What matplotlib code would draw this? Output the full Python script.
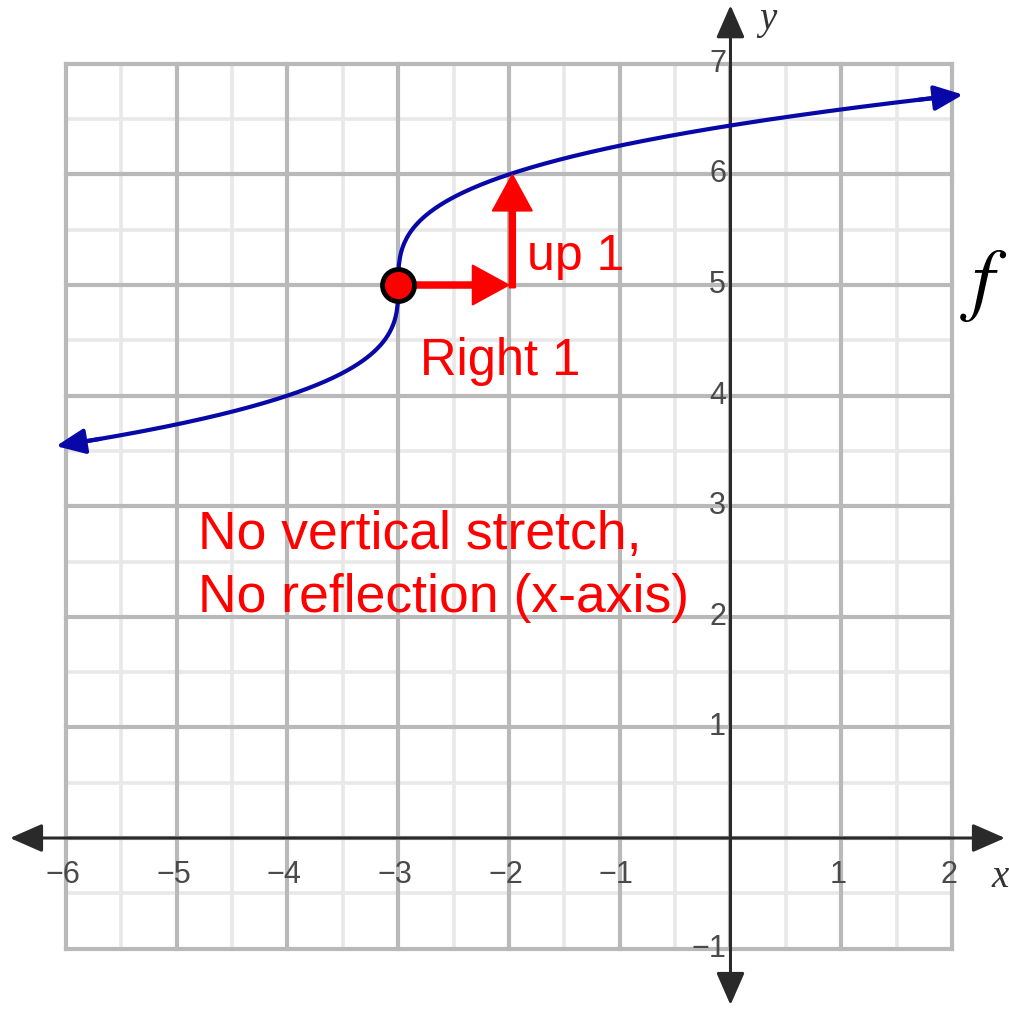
import numpy as np
import matplotlib
matplotlib.use("Agg")
from matplotlib import pyplot as plt

# graph of f(x) = cbrt(x - h) + k
h = -3
k = 5
x_ends = [-6.09, 2.1]
point = (-3, 5)
x_ticks = [-6, -5, -4, -3, -2, -1, 1, 2]
y_ticks = [-1, 1, 2, 3, 4, 5, 6, 7]

def f(x):
    return np.cbrt(x - h) + k

fig = plt.figure(figsize=(10.09, 10.11), dpi=100)
ax = fig.add_axes([0, 0, 1, 1])
ax.set_xlim(-6.596, 2.515)
ax.set_ylim(-1.564, 7.577)
ax.axis("off")

# grid
for v in np.arange(-6, 2.01, 0.5):
    if v % 1:
        ax.plot([v, v], [-1, 7], color="#e8e8e8", lw=2.6, zorder=1)
for v in np.arange(-1, 7.01, 0.5):
    if v % 1:
        ax.plot([-6, 2], [v, v], color="#e8e8e8", lw=2.6, zorder=1)
for v in range(-6, 3):
    ax.plot([v, v], [-1, 7], color="#b9b9b9", lw=3, zorder=2)
for v in range(-1, 8):
    ax.plot([-6, 2], [v, v], color="#b9b9b9", lw=3, zorder=2)

# axes with arrows
ax_style = dict(arrowstyle="<|-|>,head_length=0.8,head_width=0.35", color="#2a2a2a",
                lw=2.2, mutation_scale=25, shrinkA=0, shrinkB=0)
ax.annotate("", xy=(2.479, 0), xytext=(-6.506, 0), arrowprops=ax_style, zorder=3)
ax.annotate("", xy=(0, 7.53), xytext=(0, -1.51), arrowprops=ax_style, zorder=3)

for t in x_ticks:
    ax.text(t - 0.03, -0.33, "\u2212%d" % -t if t < 0 else str(t), ha="center", va="center",
            fontsize=22, color="#4a4a4a", family="Liberation Sans", zorder=4)
for t in y_ticks:
    ax.text(-0.04, t, "\u2212%d" % -t if t < 0 else str(t), ha="right", va="center",
            fontsize=22, color="#4a4a4a", family="Liberation Sans", zorder=4)
ax.text(2.36, -0.36, "x", ha="left", va="center", fontsize=28, style="italic",
        family="Liberation Serif", color="#333333")
ax.text(0.34, 7.40, "y", ha="center", va="center", fontsize=28, style="italic",
        family="Liberation Serif", color="#333333")

# the curve
xs = np.linspace(x_ends[0], x_ends[1], 800)
ax.plot(xs[15:-15], f(xs[15:-15]), color="#0808a8", lw=3, zorder=5, solid_capstyle="butt")
c_style = dict(arrowstyle="-|>,head_length=0.8,head_width=0.35", color="#0808a8",
               lw=3, mutation_scale=22, shrinkA=0, shrinkB=0)
ax.annotate("", xy=(xs[-1], f(xs[-1])), xytext=(xs[-40], f(xs[-40])), arrowprops=c_style, zorder=5)
ax.annotate("", xy=(xs[0], f(xs[0])), xytext=(xs[39], f(xs[39])), arrowprops=c_style, zorder=5)

# shift arrows
ax.arrow(point[0], point[1], 1, 0, width=0.055, head_width=0.36, head_length=0.33,
         length_includes_head=True, color="#ff0000", zorder=6)
ax.arrow(point[0] + 1.03, point[1] - 0.025, 0, 1.025, width=0.055, head_width=0.36,
         head_length=0.33, length_includes_head=True, color="#ff0000", zorder=6)
ax.plot(*point, "o", ms=23, mfc="#ff0000", mec="black", mew=3.5, zorder=7)

red = dict(color="#ff0000", family="Liberation Sans", va="baseline", ha="left")
ax.text(-1.84, 5.136, "up 1", fontsize=36, **red)
ax.text(-2.80, 4.186, "Right 1", fontsize=36.5, **red)
ax.text(-4.81, 2.613, "No vertical stretch,", fontsize=38.5, **red)
ax.text(-4.81, 2.043, "No reflection (x-axis)", fontsize=38.5, **red)

ax.text(2.29, 5.0, "$f$", ha="center", va="center", fontsize=58,
        math_fontfamily="stix", color="black")

fig.savefig("out.png", dpi=100)
